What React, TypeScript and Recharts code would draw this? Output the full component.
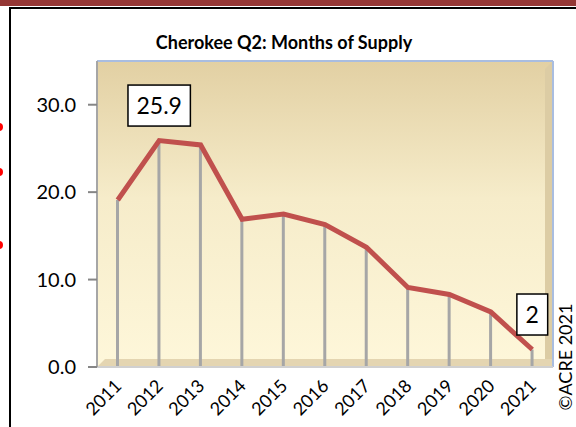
import React from "react";
import {
  ComposedChart,
  Line,
  Bar,
  XAxis,
  YAxis,
  CartesianGrid,
  ReferenceArea,
  LabelList,
} from "recharts";

const years = ["2011", "2012", "2013", "2014", "2015", "2016", "2017", "2018", "2019", "2020", "2021"];
const supply = [19.1, 25.9, 25.4, 16.9, 17.5, 16.3, 13.7, 9.1, 8.3, 6.3, 2];
const labeledYears = ["2012", "2021"];
const yTicks = [0, 10, 20, 30];

const data = years.map((year, i) => ({ year, supply: supply[i] }));

const FONT = "Lato, 'Open Sans', sans-serif";

// back wall + floor + side wall, drawn in the reference area's box
const Wall = (props: any) => {
  const { x, y, width, height } = props;
  const d = 8;
  return (
    <g>
      <defs>
        <linearGradient id="wallFill" x1="0" y1="0" x2="0" y2="1">
          <stop offset="0%" stopColor="#e2d0a3" />
          <stop offset="45%" stopColor="#f6ecca" />
          <stop offset="100%" stopColor="#fef7da" />
        </linearGradient>
      </defs>
      <rect x={x} y={y} width={width} height={height} fill="url(#wallFill)" />
      <polygon
        points={`${x + width - d},${y + d} ${x + width},${y} ${x + width},${y + height} ${x + width - d},${y + height}`}
        fill="#dccca4"
      />
      <polygon
        points={`${x},${y + height} ${x + d},${y + height - d} ${x + width},${y + height - d} ${x + width},${y + height}`}
        fill="#e4d5b1"
      />
      <line x1={x} y1={y} x2={x + width} y2={y} stroke="#a9bde0" strokeWidth={2} />
      <line x1={x + width} y1={y} x2={x + width} y2={y + height} stroke="#a9bde0" strokeWidth={2} />
    </g>
  );
};

const YearTick = (props: any) => {
  const { x, y, payload } = props;
  return (
    <text
      x={x + 5}
      y={y + 12}
      transform={`rotate(-45, ${x + 5}, ${y + 12})`}
      textAnchor="end"
      fontSize={18}
      fontFamily={FONT}
      fill="#000"
    >
      {payload.value}
    </text>
  );
};

const BoxLabel = (props: any) => {
  const { x, y, value, index } = props;
  if (!labeledYears.includes(years[index])) return null;
  const text = String(value);
  const w = text.replace(".", "").length * 12.8 + (text.includes(".") ? 6 : 0) + 18;
  const h = 41;
  const cy = y - 35;
  return (
    <g>
      <rect x={x - w / 2} y={cy - h / 2} width={w} height={h} fill="#fff" stroke="#000" strokeWidth={1.5} />
      <text x={x} y={cy + 8} textAnchor="middle" fontSize={23} fontFamily={FONT} fill="#000">
        {text}
      </text>
    </g>
  );
};

export default function App() {
  return (
    <div style={{ position: "absolute", left: 0, top: 0, width: 576, height: 427, background: "#fff", overflow: "hidden" }}>
      <div style={{ position: "absolute", left: 0, top: 0, width: 576, height: 6, background: "#953735" }} />
      <div style={{ position: "absolute", left: 9, top: 7, width: 567, height: 420, borderLeft: "2px solid #000", borderTop: "2px solid #000" }} />
      {[127, 172, 245].map((t) => (
        <div key={t} style={{ position: "absolute", left: -5, top: t - 4, width: 8, height: 8, borderRadius: 4, background: "#ff0000" }} />
      ))}
      <ComposedChart
        width={576}
        height={427}
        data={data}
        margin={{ top: 61, right: 23, bottom: 0, left: 0 }}
        style={{ position: "absolute", left: 0, top: 0 }}
      >
        <ReferenceArea y1={0} y2={35} shape={<Wall />} ifOverflow="visible" />
        <CartesianGrid vertical={false} stroke="#868686" strokeWidth={2} horizontalValues={[10, 20, 30]} />
        <XAxis
          dataKey="year"
          height={60}
          tickLine={false}
          axisLine={{ stroke: "#d0d0d0", strokeWidth: 2 }}
          tick={<YearTick />}
          interval={0}
        />
        <YAxis
          domain={[0, 35]}
          ticks={yTicks}
          width={97}
          tickFormatter={(v: number) => v.toFixed(1)}
          tick={{ fill: "#000", fontSize: 20, fontFamily: FONT }}
          tickLine={{ stroke: "#868686", strokeWidth: 2 }}
          tickSize={9}
          tickMargin={12}
          axisLine={{ stroke: "#a6a6a6", strokeWidth: 2 }}
        />
        <Bar dataKey="supply" barSize={3} fill="#a6a6a6" isAnimationActive={false} />
        <Line
          type="linear"
          dataKey="supply"
          stroke="#c0504d"
          strokeWidth={5}
          dot={false}
          activeDot={false}
          isAnimationActive={false}
        >
          <LabelList dataKey="supply" content={<BoxLabel />} />
        </Line>
        <text x={284} y={49} textAnchor="middle" fontSize={18} fontWeight="bold" fontFamily={FONT} fill="#000">
          Cherokee Q2: Months of Supply
        </text>
        <text
          x={572}
          y={357}
          transform="rotate(-90, 572, 357)"
          textAnchor="middle"
          fontSize={18}
          fontFamily={FONT}
          fill="#000"
        >
          ©ACRE 2021
        </text>
      </ComposedChart>
    </div>
  );
}
